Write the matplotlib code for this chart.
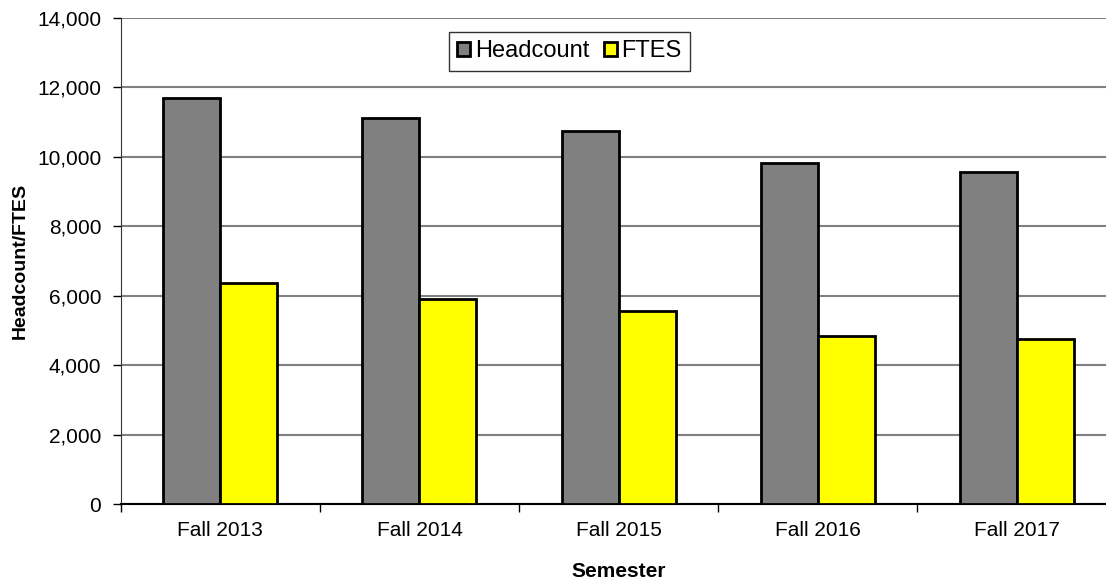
import matplotlib
matplotlib.use("Agg")
import matplotlib.pyplot as plt
import numpy as np
from matplotlib.ticker import FuncFormatter, MultipleLocator, FixedLocator

plt.rcParams['font.family'] = ['Liberation Sans', 'DejaVu Sans']

semesters = ["Fall 2013", "Fall 2014", "Fall 2015", "Fall 2016", "Fall 2017"]
headcount = [11700, 11120, 10746, 9815, 9556]
ftes = [6367, 5906, 5560, 4849, 4754]

fig = plt.figure(figsize=(11.06, 5.83), dpi=100)
ax = fig.add_axes([0.1091, 0.1355, 0.9005, 0.8336])

x = np.arange(len(semesters))
w = 0.286
ax.bar(x - w/2, headcount, w, color="#808080", edgecolor="black", linewidth=2, label="Headcount", zorder=3)
ax.bar(x + w/2, ftes, w, color="#FFFF00", edgecolor="black", linewidth=2, label="FTES", zorder=3)

ax.set_xlim(-0.5, len(semesters) - 0.5)
ax.set_ylim(0, 14000)
ax.yaxis.set_major_locator(MultipleLocator(2000))
ax.yaxis.set_major_formatter(FuncFormatter(lambda v, p: f"{int(v):,}"))
ax.set_xticks(x)
ax.set_xticklabels(semesters)
ax.xaxis.set_minor_locator(FixedLocator(np.arange(-0.5, len(semesters), 1)))
ax.tick_params(axis='x', which='major', length=0, labelsize=15, pad=12)
ax.tick_params(axis='x', which='minor', length=6, width=1, direction='out')
ax.tick_params(axis='y', length=6, width=1, direction='out', labelsize=15, pad=8)

ax.grid(axis='y', color='#808080', linewidth=1.5, zorder=0)
for s in ['top', 'right']:
    ax.spines[s].set_visible(False)
ax.spines['left'].set_color('#333333')
ax.spines['bottom'].set_color('black')
ax.spines['bottom'].set_linewidth(1.5)

ax.set_xlabel("Semester", fontsize=15, fontweight='bold')
ax.xaxis.set_label_coords(0.5, -0.12)
ax.set_ylabel("Headcount/FTES", fontsize=14, fontweight='bold')
ax.yaxis.set_label_coords(-0.092, 0.5)

leg = fig.legend(*ax.get_legend_handles_labels(), loc='upper left',
                 bbox_to_anchor=(449/1106, 1 - 32/583), ncol=2, fontsize=17,
                 frameon=True, fancybox=False, edgecolor='black', handlelength=0.55,
                 handleheight=0.55, handletextpad=0.2, columnspacing=0.6,
                 borderpad=0.35, borderaxespad=0)
leg.get_frame().set_linewidth(1)

fig.savefig("out.png", dpi=100)
